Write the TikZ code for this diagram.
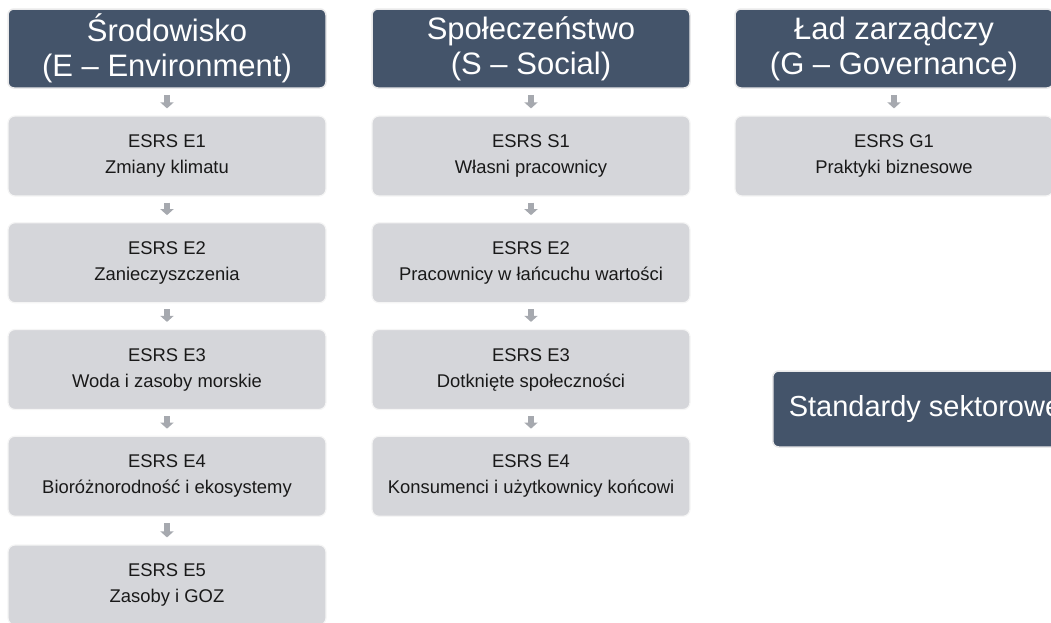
\documentclass[tikz,border=0pt]{standalone}
\usepackage{fontspec}
\setmainfont{Liberation Sans}
\usepackage{xcolor}
\usetikzlibrary{arrows.meta}

\definecolor{naglowek}{HTML}{44546A}
\definecolor{szary}{HTML}{D5D6DA}
\definecolor{strzalka}{HTML}{A6A9AF}
\definecolor{ramka}{HTML}{E9E9EA}

\begin{document}
\begin{tikzpicture}[x=1pt,y=-1pt,
  naglowek/.style={fill=naglowek, draw=ramka, line width=1.5pt, rounded corners=6pt,
    minimum width=318pt, minimum height=79pt, inner sep=0pt, align=center,
    text=white, font=\fontsize{31}{35}\selectfont},
  pole/.style={fill=szary, draw=white!92!gray, line width=1.2pt, rounded corners=7pt,
    minimum width=318pt, minimum height=80pt, inner sep=0pt, align=center,
    text=black!90, font=\fontsize{18.4}{26}\selectfont},
  strz/.style={draw=strzalka, line width=6pt, shorten <=6pt, shorten >=7pt,
    -{Triangle[width=13pt,length=6pt]}}]

  \useasboundingbox (0,0) rectangle (1051,622);
  \clip (0,0) rectangle (1051,622);

  % Srodowisko
  \node[naglowek] (hE) at (167,48.5) {Środowisko\\(E – Environment)};
  \node[pole] (e1) at (167,156) {ESRS E1\\Zmiany klimatu};
  \node[pole] (e2) at (167,262.75) {ESRS E2\\Zanieczyszczenia};
  \node[pole] (e3) at (167,369.5) {ESRS E3\\Woda i zasoby morskie};
  \node[pole] (e4) at (167,476.25) {ESRS E4\\Bioróżnorodność i ekosystemy};
  \node[pole] (e5) at (167,585) {ESRS E5\\Zasoby i GOZ};

  \draw[strz] (hE) -- (e1);
  \draw[strz] (e1) -- (e2);
  \draw[strz] (e2) -- (e3);
  \draw[strz] (e3) -- (e4);
  \draw[strz] (e4) -- (e5);

  % Spoleczenstwo
  \node[naglowek] (hS) at (531,48.5) {Społeczeństwo\\(S – Social)};
  \node[pole] (s1) at (531,156) {ESRS S1\\Własni pracownicy};
  \node[pole] (s2) at (531,262.75) {ESRS E2\\Pracownicy w łańcuchu wartości};
  \node[pole] (s3) at (531,369.5) {ESRS E3\\Dotknięte społeczności};
  \node[pole] (s4) at (531,476.25) {ESRS E4\\Konsumenci i użytkownicy końcowi};

  \draw[strz] (hS) -- (s1);
  \draw[strz] (s1) -- (s2);
  \draw[strz] (s2) -- (s3);
  \draw[strz] (s3) -- (s4);

  % Lad zarzadczy
  \node[naglowek] (hG) at (894,48.5) {Ład zarządczy\\(G – Governance)};
  \node[pole] (g1) at (894,156) {ESRS G1\\Praktyki biznesowe};

  \draw[strz] (hG) -- (g1);

  \node[naglowek, anchor=west, minimum width=0pt, minimum height=76pt,
    inner xsep=16pt, font=\fontsize{29}{33}\selectfont] (sekt) at (772,409) {Standardy sektorowe};

\end{tikzpicture}
\end{document}
